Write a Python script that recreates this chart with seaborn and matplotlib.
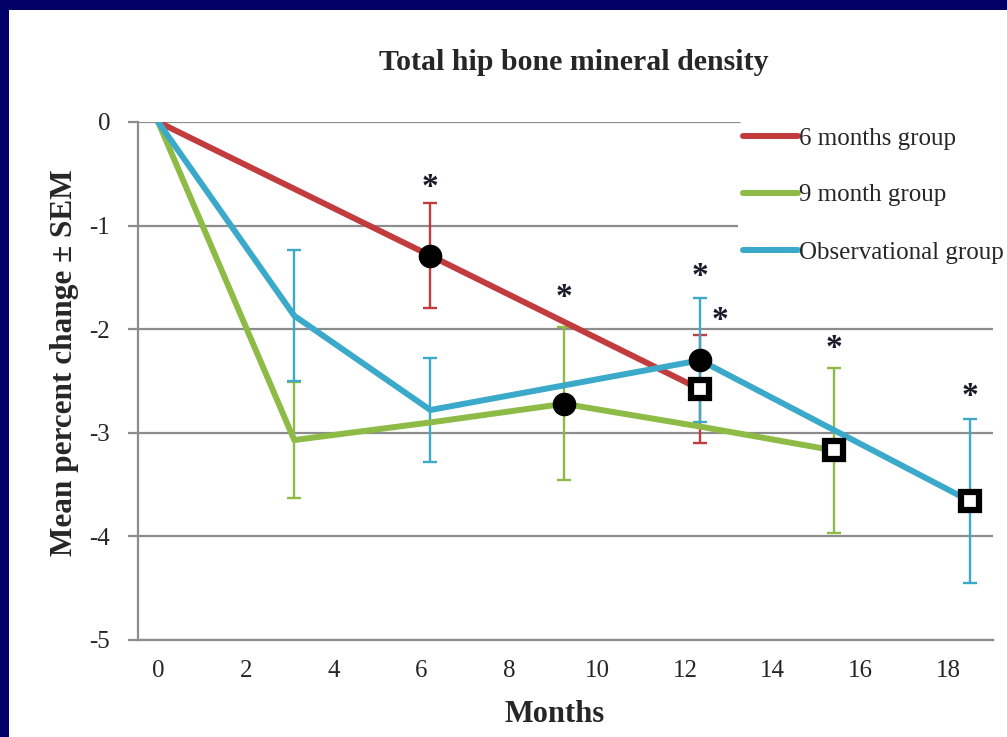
import numpy as np
import pandas as pd
import matplotlib
matplotlib.use("Agg")
import matplotlib.pyplot as plt
import seaborn as sns
from matplotlib.patches import Rectangle

# values
GROUPS = ["6 months group", "9 month group", "Observational group"]

months_6 = [0, 6.2, 12.35]
mean_6 = [0, -1.29, -2.58]
sem_6 = [np.nan, 0.51, 0.52]
mark_6 = ["", "o", "s"]

months_9 = [0, 3.1, 6.2, 9.25, 12.35, 15.4]
mean_9 = [0, -3.07, -2.9, -2.72, -2.94, -3.17]
sem_9 = [np.nan, 0.56, np.nan, 0.74, np.nan, 0.8]
mark_9 = ["", "", "", "o", "", "s"]

months_obs = [0, 3.1, 6.2, 12.35, 18.5]
mean_obs = [0, -1.87, -2.78, -2.3, -3.66]
sem_obs = [np.nan, 0.63, 0.5, 0.6, 0.79]
mark_obs = ["", "", "", "o", "s"]

star_x = [6.2, 9.25, 12.35, 12.8, 15.4, 18.5]
star_y = [-0.63, -1.69, -1.49, -1.92, -2.19, -2.65]

x_ticks = [0, 2, 4, 6, 8, 10, 12, 14, 16, 18]
y_ticks = [0, -1, -2, -3, -4, -5]

COLORS = {
    "6 months group": "#C23B3D",
    "9 month group": "#8DBB45",
    "Observational group": "#3BA9C9",
}
GRID = "#8C8C8C"
NAVY = "#000066"
SERIF = ["Liberation Serif", "DejaVu Serif"]

sns.set_style("white")
plt.rcParams["font.family"] = SERIF

series = {
    "6 months group": (months_6, mean_6, sem_6, mark_6),
    "9 month group": (months_9, mean_9, sem_9, mark_9),
    "Observational group": (months_obs, mean_obs, sem_obs, mark_obs),
}

df = pd.concat(
    [
        pd.DataFrame({"month": m, "change": v, "sem": s, "marker": mk, "group": g})
        for g, (m, v, s, mk) in series.items()
    ],
    ignore_index=True,
)

fig = plt.figure(figsize=(10.07, 7.37), dpi=100, facecolor=NAVY)
# white slide area inside the navy frame
fig.add_artist(Rectangle((9 / 1007, 0), 1 - 9 / 1007, 1 - 10 / 737,
                         transform=fig.transFigure, facecolor="white",
                         edgecolor="none", zorder=0))

ax = fig.add_axes([138 / 1007, 1 - 640 / 737, (993 - 138) / 1007, (640 - 122) / 737])
ax.set_facecolor("white")

# error bars under the lines
for g, (m, v, s, mk) in series.items():
    sub = df[(df["group"] == g) & df["sem"].notna()]
    ax.errorbar(sub["month"], sub["change"], yerr=sub["sem"], fmt="none",
                ecolor=COLORS[g], elinewidth=1.7, capsize=5, capthick=1.7, zorder=2)

sns.lineplot(data=df, x="month", y="change", hue="group", palette=COLORS,
             hue_order=GROUPS, sort=False, estimator=None, linewidth=4.3,
             ax=ax, zorder=3)

# black markers at the key visits
circ = df[df["marker"] == "o"]
ax.plot(circ["month"], circ["change"], "o", color="black", markersize=16, zorder=5)
sq = df[df["marker"] == "s"]
ax.plot(sq["month"], sq["change"], "s", mfc="white", mec="black", mew=4.5,
        markersize=13, zorder=5)

for x, y in zip(star_x, star_y):
    ax.text(x, y, "*", ha="center", va="center", fontsize=24, fontweight="bold",
            color="#1a1a2a", zorder=6)

ax.set_xlim(-0.46, 19.02)
ax.set_ylim(-5, 0)
ax.set_xticks(x_ticks)
ax.set_yticks(y_ticks)
ax.set_xticklabels([str(t) for t in x_ticks], fontsize=18)
ax.set_yticklabels([str(t) for t in y_ticks], fontsize=18)
ax.grid(axis="y", color=GRID, linewidth=1.6)
ax.set_axisbelow(True)
for side in ["top", "right"]:
    ax.spines[side].set_visible(False)
for side in ["left", "bottom"]:
    ax.spines[side].set_color(GRID)
    ax.spines[side].set_linewidth(1.6)
ax.tick_params(axis="y", which="both", left=True, length=7, width=1.6,
               color=GRID, pad=13)
ax.tick_params(axis="x", which="both", bottom=False, pad=11)
ax.set_xlabel("")
ax.set_ylabel("")

leg = ax.legend(loc="upper left", bbox_to_anchor=(738 / 1007, 1 - 122 / 737),
                bbox_transform=fig.transFigure, frameon=True, fontsize=18,
                handlelength=2.2, handletextpad=0.05, labelspacing=1.38,
                borderpad=0.2, borderaxespad=0)
leg.get_frame().set_facecolor("white")
leg.get_frame().set_edgecolor("none")
leg.get_frame().set_alpha(1)
for line in leg.get_lines():
    line.set_linewidth(4.3)

fig.text(574 / 1007, 1 - 62 / 737, "Total hip bone mineral density",
         ha="center", va="center", fontsize=21.5, fontweight="bold")
fig.text(555 / 1007, 1 - 714 / 737, "Months", ha="center", va="center",
         fontsize=22, fontweight="bold")
fig.text(65 / 1007, 1 - 363 / 737, "Mean percent change \u00b1 SEM", ha="center",
         va="center", rotation=90, fontsize=22.5, fontweight="bold")

fig.savefig("out.png", dpi=100, facecolor=NAVY)
